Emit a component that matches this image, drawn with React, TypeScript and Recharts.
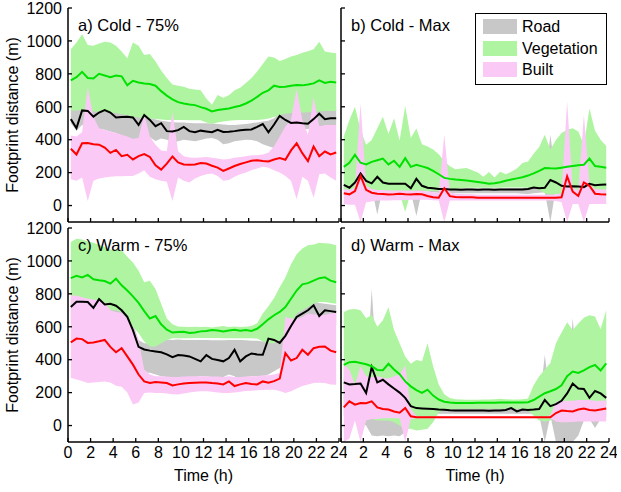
import React from 'react';
import { ComposedChart, Area, Line, XAxis, YAxis, Legend } from 'recharts';

// half-hour bin centres (h)
const hours = [
  0.25, 0.75, 1.25, 1.75, 2.25, 2.75, 3.25, 3.75, 4.25, 4.75, 5.25, 5.75,
  6.25, 6.75, 7.25, 7.75, 8.25, 8.75, 9.25, 9.75, 10.25, 10.75, 11.25, 11.75,
  12.25, 12.75, 13.25, 13.75, 14.25, 14.75, 15.25, 15.75, 16.25, 16.75, 17.25, 17.75,
  18.25, 18.75, 19.25, 19.75, 20.25, 20.75, 21.25, 21.75, 22.25, 22.75, 23.25, 23.75,
];
const xTicks = [0, 2, 4, 6, 8, 10, 12, 14, 16, 18, 20, 22, 24];
const yTicks = [0, 200, 400, 600, 800, 1000, 1200];
const legendOrder = ['Road', 'Vegetation', 'Built'];

// a) Cold - 75%
const cold75RoadLo = [500, 455, 490, 485, 475, 465, 460, 450, 440, 425, 405, 365, 395, 425, 415, 392, 408, 400, 382, 390, 400, 395, 390, 398, 408, 410, 400, 372, 378, 390, 395, 400, 398, 390, 372, 360, 350, 342, 335, 330, 420, 460, 465, 472, 478, 482, 488, 490];
const cold75RoadMed = [525, 470, 578, 575, 540, 565, 580, 565, 535, 538, 540, 535, 490, 550, 520, 482, 500, 452, 450, 458, 478, 452, 445, 455, 450, 445, 460, 447, 448, 452, 458, 461, 462, 478, 495, 445, 492, 545, 520, 502, 505, 500, 497, 525, 558, 525, 530, 531];
const cold75RoadHi = [590, 592, 600, 600, 592, 590, 595, 592, 580, 565, 558, 552, 548, 560, 535, 522, 515, 510, 506, 505, 505, 502, 500, 500, 500, 498, 495, 492, 490, 490, 492, 495, 500, 505, 510, 515, 530, 560, 578, 580, 584, 585, 586, 588, 590, 592, 594, 595];
const cold75VegLo = [578, 578, 580, 575, 572, 570, 568, 565, 562, 555, 548, 540, 535, 530, 528, 525, 522, 520, 520, 520, 520, 518, 518, 518, 505, 495, 505, 510, 515, 518, 520, 520, 520, 520, 522, 528, 538, 550, 558, 562, 565, 565, 566, 568, 572, 574, 575, 575];
const cold75VegMed = [760, 780, 812, 775, 772, 800, 790, 780, 790, 785, 730, 758, 748, 742, 738, 728, 695, 668, 645, 628, 620, 614, 610, 598, 588, 572, 580, 585, 590, 598, 606, 620, 638, 660, 685, 700, 728, 720, 722, 728, 732, 730, 735, 742, 760, 745, 752, 748];
const cold75VegHi = [950, 990, 1040, 975, 970, 985, 995, 990, 970, 935, 895, 990, 970, 915, 920, 875, 820, 775, 735, 728, 722, 710, 705, 700, 650, 612, 672, 655, 670, 700, 715, 745, 775, 815, 860, 905, 900, 878, 890, 905, 915, 928, 938, 950, 995, 935, 930, 925];
const cold75BuiltLo = [160, 150, 170, 28, 150, 165, 170, 175, 178, 178, 180, 180, 195, 215, 175, 160, 150, 145, 28, 170, 150, 140, 165, 180, 190, 195, 180, 150, 155, 175, 190, 200, 215, 225, 235, 230, 215, 200, 180, 150, 38, 175, 150, 48, 190, 195, 170, 150];
const cold75BuiltMed = [345, 310, 378, 380, 372, 370, 352, 320, 338, 300, 308, 280, 300, 312, 295, 245, 218, 255, 298, 262, 250, 248, 250, 258, 255, 242, 230, 210, 225, 240, 252, 262, 272, 275, 270, 268, 280, 288, 278, 335, 378, 318, 270, 358, 300, 328, 310, 322];
const cold75BuiltHi = [425, 420, 445, 720, 540, 470, 460, 450, 440, 430, 420, 405, 410, 555, 420, 370, 335, 330, 570, 330, 300, 292, 290, 292, 295, 290, 285, 280, 282, 290, 295, 300, 305, 305, 310, 320, 360, 420, 480, 520, 710, 520, 430, 660, 480, 490, 490, 490];

// b) Cold - Max
const coldMaxRoadLo = [100, 85, 110, 140, 120, 105, -54, 110, 100, 100, 100, 100, 80, -64, 90, 85, 80, 78, 75, 75, 75, 75, 75, 75, 75, 75, 75, 75, 75, 75, 75, 75, 72, 70, 75, 78, 80, -100, 110, 95, 90, 90, 90, 88, 100, 95, 98, 100];
const coldMaxRoadMed = [125, 108, 140, 195, 150, 135, 175, 140, 133, 132, 132, 132, 105, 162, 120, 108, 105, 101, 100, 98, 97, 96, 97, 97, 96, 97, 97, 96, 97, 97, 98, 97, 97, 100, 110, 105, 108, 155, 140, 120, 116, 117, 115, 112, 132, 124, 126, 128];
const coldMaxRoadHi = [140, 120, 150, 210, 165, 145, 185, 150, 142, 142, 140, 140, 115, 172, 130, 118, 112, 110, 108, 106, 105, 105, 105, 104, 104, 104, 104, 104, 104, 104, 105, 105, 106, 110, 118, 115, 118, 430, 160, 130, 126, 126, 124, 122, 142, 134, 136, 138];
const coldMaxVegLo = [90, 85, 80, 85, 70, 65, 65, 70, 65, 70, 75, -40, 80, 90, 90, 90, 88, 88, 90, 95, 100, 105, 108, 108, 108, 108, 108, 108, 108, 110, 110, 110, 110, 108, 105, 95, 75, 65, 70, 60, 55, 55, 55, 55, 55, 55, 55, 55];
const coldMaxVegMed = [235, 260, 308, 260, 250, 265, 275, 285, 250, 272, 235, 288, 235, 248, 238, 228, 210, 190, 168, 162, 158, 155, 152, 148, 143, 138, 132, 136, 142, 150, 158, 165, 172, 182, 195, 210, 228, 226, 225, 230, 235, 240, 245, 248, 285, 240, 235, 230];
const coldMaxVegHi = [420, 520, 600, 460, 370, 398, 470, 540, 435, 530, 395, 605, 410, 468, 372, 358, 340, 312, 270, 238, 220, 225, 228, 215, 200, 175, 204, 170, 205, 190, 205, 225, 258, 268, 315, 355, 430, 340, 398, 440, 460, 470, 450, 370, 590, 455, 400, 362];
const coldMaxBuiltLo = [10, 5, 5, -100, 20, 25, 30, 30, 30, 32, 32, 32, 35, 35, 35, 35, 32, 30, -100, 30, 30, 30, 30, 30, 30, 30, 30, 30, 30, 30, 30, 30, 30, 30, 30, 30, 30, 30, 28, 20, -100, 10, 10, -100, 10, 10, 10, 10];
const coldMaxBuiltMed = [75, 68, 88, 180, 95, 78, 72, 70, 67, 68, 71, 68, 67, 70, 68, 58, 50, 47, 105, 57, 52, 50, 50, 50, 48, 47, 47, 47, 47, 47, 47, 47, 47, 47, 47, 47, 47, 47, 48, 50, 178, 85, 58, 140, 120, 72, 68, 67];
const coldMaxBuiltHi = [100, 95, 110, 620, 120, 100, 95, 95, 92, 92, 92, 92, 90, 92, 90, 85, 80, 75, 430, 80, 72, 70, 68, 68, 65, 65, 65, 65, 65, 65, 65, 65, 65, 65, 65, 65, 65, 65, 68, 75, 630, 110, 90, 550, 130, 100, 98, 97];

// c) Warm - 75%
const warm75RoadLo = [640, 650, 650, 640, 620, 640, 620, 600, 600, 580, 540, 480, 400, 320, 320, 310, 300, 295, 290, 295, 290, 290, 295, 300, 298, 295, 290, 295, 310, 300, 270, 295, 300, 300, 300, 310, 330, 350, 420, 520, 580, 600, 620, 640, 620, 620, 620, 610];
const warm75RoadMed = [720, 752, 752, 750, 715, 768, 735, 740, 728, 700, 660, 580, 478, 462, 455, 450, 445, 432, 415, 428, 425, 420, 405, 390, 428, 405, 398, 390, 410, 460, 390, 420, 438, 432, 430, 528, 520, 502, 545, 605, 660, 680, 700, 730, 665, 700, 695, 690];
const warm75RoadHi = [770, 780, 780, 780, 770, 790, 770, 770, 760, 730, 690, 620, 520, 500, 500, 510, 525, 522, 520, 522, 520, 520, 520, 520, 520, 518, 518, 518, 520, 520, 520, 518, 515, 515, 510, 535, 530, 525, 560, 640, 700, 715, 730, 755, 745, 740, 735, 730];
const warm75VegLo = [720, 730, 730, 720, 720, 730, 720, 700, 700, 690, 650, 600, 560, 510, 480, 480, 500, 520, 530, 530, 530, 530, 532, 532, 532, 532, 532, 530, 530, 530, 530, 530, 530, 528, 510, 500, 500, 520, 560, 620, 680, 700, 720, 740, 750, 750, 745, 740];
const warm75VegMed = [895, 910, 900, 915, 888, 882, 878, 862, 892, 852, 820, 785, 745, 695, 650, 665, 615, 582, 565, 568, 570, 562, 565, 572, 575, 580, 578, 572, 578, 582, 576, 580, 575, 588, 615, 645, 670, 690, 720, 770, 820, 858, 865, 880, 895, 900, 880, 870];
const warm75VegHi = [1115, 1135, 1130, 1118, 1110, 1098, 1085, 1068, 1068, 1065, 1025, 990, 940, 870, 880, 830, 740, 650, 615, 602, 600, 598, 600, 598, 600, 596, 600, 605, 598, 602, 598, 600, 605, 622, 680, 725, 775, 840, 900, 980, 1040, 1075, 1095, 1100, 1110, 1108, 1105, 1095];
const warm75BuiltLo = [290, 280, 270, 258, 262, 265, 268, 262, 242, 235, 200, 128, 140, 198, 200, 198, 198, 195, 190, 188, 195, 200, 205, 208, 208, 205, 200, 198, 198, 200, 205, 210, 212, 214, 216, 218, 218, 210, 198, 208, 225, 240, 250, 258, 260, 258, 250, 248];
const warm75BuiltMed = [505, 528, 525, 502, 505, 512, 520, 478, 445, 470, 420, 370, 310, 268, 258, 265, 262, 258, 243, 250, 255, 258, 260, 262, 262, 258, 255, 250, 268, 240, 250, 258, 252, 250, 268, 260, 270, 285, 440, 395, 410, 460, 430, 470, 478, 480, 455, 445];
const warm75BuiltHi = [790, 790, 780, 770, 765, 760, 750, 700, 690, 685, 650, 600, 520, 340, 310, 300, 300, 298, 295, 295, 298, 300, 300, 300, 300, 298, 298, 295, 300, 295, 295, 298, 300, 300, 305, 305, 310, 320, 660, 650, 645, 660, 680, 675, 675, 672, 680, 685];

// d) Warm - Max
const warmMaxRoadLo = [60, 40, 30, 20, 0, -60, -65, -60, -65, -60, -65, -40, 60, 70, 70, 72, 72, 72, 72, 72, 72, 72, 72, 72, 72, 72, 72, 72, 72, 72, 72, 72, 72, 72, 72, 60, -100, 60, -100, -100, -100, -100, -60, 30, 40, -15, 40, 50];
const warmMaxRoadMed = [262, 250, 252, 255, 198, 355, 262, 278, 250, 225, 200, 168, 118, 106, 104, 102, 100, 97, 96, 93, 92, 91, 91, 91, 91, 91, 90, 91, 91, 95, 106, 86, 97, 95, 97, 100, 155, 118, 130, 150, 195, 255, 225, 222, 168, 210, 195, 168];
const warmMaxRoadHi = [290, 280, 280, 290, 240, 830, 300, 305, 280, 260, 235, 200, 140, 125, 120, 118, 115, 112, 110, 110, 110, 110, 110, 110, 110, 110, 110, 110, 112, 118, 120, 108, 115, 115, 115, 118, 430, 140, 160, 180, 220, 650, 260, 250, 200, 240, 225, 200];
const warmMaxVegLo = [150, 120, 100, 80, 60, 40, 30, 30, 30, 20, 0, -20, -20, -30, -25, -20, 20, 80, 95, 98, 100, 102, 102, 102, 102, 102, 102, 102, 102, 102, 102, 102, 102, 95, 60, 30, 25, 30, 80, 110, 120, 125, 130, 130, 130, 130, 130, 130];
const warmMaxVegMed = [368, 385, 388, 380, 372, 360, 338, 336, 375, 340, 312, 268, 238, 215, 198, 218, 182, 158, 145, 140, 137, 137, 137, 137, 138, 138, 138, 138, 140, 140, 140, 140, 140, 142, 155, 175, 196, 208, 222, 245, 300, 328, 320, 335, 355, 368, 335, 378];
const warmMaxVegHi = [690, 705, 708, 700, 652, 672, 600, 640, 718, 580, 500, 420, 375, 398, 390, 500, 360, 250, 190, 168, 160, 158, 157, 157, 157, 158, 158, 160, 162, 160, 158, 158, 160, 165, 245, 300, 340, 380, 500, 565, 628, 580, 620, 655, 670, 662, 585, 700];
const warmMaxBuiltLo = [-100, -80, 30, -100, 30, 40, 40, 45, 45, 45, 45, -100, 40, 45, 45, 45, 45, 45, 45, 45, 45, 45, 45, 45, 45, 45, 45, 45, 45, 45, 45, 45, 45, 45, 45, 45, 45, 45, 25, 20, 20, 22, 25, 25, 25, 25, 25, 25];
const warmMaxBuiltMed = [110, 147, 127, 137, 135, 147, 110, 100, 97, 85, 78, 107, 56, 50, 50, 50, 50, 50, 50, 50, 50, 50, 50, 50, 50, 50, 50, 50, 50, 50, 50, 50, 50, 50, 50, 50, 50, 50, 76, 91, 88, 86, 97, 103, 95, 91, 97, 103];
const warmMaxBuiltHi = [370, 340, 250, 360, 300, 295, 300, 290, 285, 300, 310, 365, 100, 58, 55, 55, 55, 55, 55, 55, 55, 55, 55, 55, 55, 55, 55, 55, 55, 55, 55, 55, 55, 55, 55, 55, 55, 62, 145, 148, 150, 150, 155, 155, 155, 150, 150, 152];

const FONT = '"Liberation Sans", Arial, Helvetica, sans-serif';
const ROAD_FILL = '#c8c8c8';
const VEG_FILL = '#aff5a1';
const BUILT_FILL = '#fbc9f6';

const X_GAP = 4; // tickMargin under x axis
const Y_GAP = 6; // tickMargin left of y axis
const TICK_LEN = 4;

type Band = { lo: number[]; med: number[]; hi: number[] };
type PanelDef = {
  title: string;
  road: Band;
  veg: Band;
  built: Band;
  plotLeft: number;
  plotTop: number;
  plotW: number;
  yLabels: boolean;
  xLabels: boolean;
  hideZero?: boolean;
  legend?: boolean;
};

const PLOT_H = 214;

const panels: PanelDef[] = [
  {
    title: 'a) Cold - 75%',
    road: { lo: cold75RoadLo, med: cold75RoadMed, hi: cold75RoadHi },
    veg: { lo: cold75VegLo, med: cold75VegMed, hi: cold75VegHi },
    built: { lo: cold75BuiltLo, med: cold75BuiltMed, hi: cold75BuiltHi },
    plotLeft: 68, plotTop: 8, plotW: 271, yLabels: true, xLabels: false,
  },
  {
    title: 'b) Cold - Max',
    road: { lo: coldMaxRoadLo, med: coldMaxRoadMed, hi: coldMaxRoadHi },
    veg: { lo: coldMaxVegLo, med: coldMaxVegMed, hi: coldMaxVegHi },
    built: { lo: coldMaxBuiltLo, med: coldMaxBuiltMed, hi: coldMaxBuiltHi },
    plotLeft: 341, plotTop: 8, plotW: 268, yLabels: false, xLabels: false, legend: true,
  },
  {
    title: 'c) Warm - 75%',
    road: { lo: warm75RoadLo, med: warm75RoadMed, hi: warm75RoadHi },
    veg: { lo: warm75VegLo, med: warm75VegMed, hi: warm75VegHi },
    built: { lo: warm75BuiltLo, med: warm75BuiltMed, hi: warm75BuiltHi },
    plotLeft: 68, plotTop: 228, plotW: 271, yLabels: true, xLabels: true,
  },
  {
    title: 'd) Warm - Max',
    road: { lo: warmMaxRoadLo, med: warmMaxRoadMed, hi: warmMaxRoadHi },
    veg: { lo: warmMaxVegLo, med: warmMaxVegMed, hi: warmMaxVegHi },
    built: { lo: warmMaxBuiltLo, med: warmMaxBuiltMed, hi: warmMaxBuiltHi },
    plotLeft: 341, plotTop: 228, plotW: 268, yLabels: false, xLabels: true, hideZero: true,
  },
];

const toRows = (p: PanelDef) =>
  hours.map((t, i) => ({
    t,
    road: [p.road.lo[i], p.road.hi[i]],
    veg: [p.veg.lo[i], p.veg.hi[i]],
    built: [p.built.lo[i], p.built.hi[i]],
    roadMed: p.road.med[i],
    vegMed: p.veg.med[i],
    builtMed: p.built.med[i],
  }));

function XTick(props: any) {
  const { x, y, payload, showLabel, hideZero } = props;
  const axisY = y - X_GAP;
  const label = showLabel && !(hideZero && payload.value === 0);
  return (
    <g>
      <line x1={x} x2={x} y1={axisY} y2={axisY - TICK_LEN} stroke="#000" strokeWidth={1.3} />
      {label && (
        <text x={x} y={y} dy="0.72em" textAnchor="middle" fontSize={16} fontFamily={FONT} fill="#000">
          {payload.value}
        </text>
      )}
    </g>
  );
}

function YTick(props: any) {
  const { x, y, payload, showLabel } = props;
  const axisX = x + Y_GAP;
  return (
    <g>
      <line x1={axisX} x2={axisX + TICK_LEN} y1={y} y2={y} stroke="#000" strokeWidth={1.3} />
      {showLabel && (
        <text x={x} y={y} dy="0.36em" textAnchor="end" fontSize={16} fontFamily={FONT} fill="#000">
          {payload.value}
        </text>
      )}
    </g>
  );
}

function YTitle(props: any) {
  const vb = props.viewBox || {};
  const cx = vb.x + 4;
  const cy = vb.y + vb.height / 2;
  return (
    <text x={cx} y={cy} transform={`rotate(-90 ${cx} ${cy})`} textAnchor="middle" dominantBaseline="central"
      fontSize={16} fontFamily={FONT} fill="#000">
      Footprint distance (m)
    </text>
  );
}

function XTitle(props: any) {
  const vb = props.viewBox || {};
  const cx = vb.x + vb.width / 2;
  const cy = vb.y + 33;
  return (
    <text x={cx} y={cy} textAnchor="middle" dominantBaseline="central" fontSize={16} fontFamily={FONT} fill="#000">
      Time (h)
    </text>
  );
}

function LegendBox(props: any) {
  const items = (props.payload || [])
    .filter((e: any) => legendOrder.includes(e.value))
    .sort((a: any, b: any) => legendOrder.indexOf(a.value) - legendOrder.indexOf(b.value));
  return (
    <div style={{ border: '1.5px solid #000', background: '#fff', padding: '2px 8px 3px 7px', fontFamily: FONT, fontSize: 16, lineHeight: '21px' }}>
      {items.map((e: any) => (
        <div key={e.value} style={{ display: 'flex', alignItems: 'center', height: 21.5 }}>
          <span style={{ display: 'inline-block', width: 34, height: 15, background: e.color, marginRight: 5 }} />
          <span>{e.value}</span>
        </div>
      ))}
    </div>
  );
}

function Panel({ p }: { p: PanelDef }) {
  const yAxisW = 60;
  const m = { top: 8, right: 8, bottom: 0, left: 8 };
  const xAxisH = p.xLabels ? 50 : 6;
  const width = m.left + yAxisW + p.plotW + m.right;
  const height = m.top + PLOT_H + xAxisH;
  const left = p.plotLeft - m.left - yAxisW;
  const top = p.plotTop - m.top;
  const rows = toRows(p);

  return (
    <div style={{ position: 'absolute', left, top, width, height }}>
      <ComposedChart width={width} height={height} data={rows} margin={m}>
        <XAxis
          type="number"
          dataKey="t"
          domain={[0, 24]}
          ticks={xTicks}
          interval={0}
          height={xAxisH}
          tickSize={0}
          tickMargin={X_GAP}
          tickLine={false}
          axisLine={{ stroke: '#000', strokeWidth: 1.5 }}
          tick={(tp: any) => <XTick {...tp} showLabel={p.xLabels} hideZero={p.hideZero} />}
          label={p.xLabels ? <XTitle /> : undefined}
        />
        <YAxis
          type="number"
          domain={[-100, 1200]}
          ticks={yTicks}
          interval={0}
          width={yAxisW}
          allowDataOverflow
          tickSize={0}
          tickMargin={Y_GAP}
          tickLine={false}
          axisLine={{ stroke: '#000', strokeWidth: 1.5 }}
          tick={(tp: any) => <YTick {...tp} showLabel={p.yLabels} />}
          label={p.yLabels ? <YTitle /> : undefined}
        />
        <Area type="linear" dataKey="road" name="Road" stroke="none" fill={ROAD_FILL} fillOpacity={1} isAnimationActive={false} dot={false} activeDot={false} />
        <Area type="linear" dataKey="veg" name="Vegetation" stroke="none" fill={VEG_FILL} fillOpacity={1} isAnimationActive={false} dot={false} activeDot={false} />
        <Area type="linear" dataKey="built" name="Built" stroke="none" fill={BUILT_FILL} fillOpacity={1} isAnimationActive={false} dot={false} activeDot={false} />
        <Line type="linear" dataKey="roadMed" stroke="#000000" strokeWidth={2} dot={false} activeDot={false} legendType="none" isAnimationActive={false} />
        <Line type="linear" dataKey="vegMed" stroke="#00e100" strokeWidth={2} dot={false} activeDot={false} legendType="none" isAnimationActive={false} />
        <Line type="linear" dataKey="builtMed" stroke="#ff0000" strokeWidth={2} dot={false} activeDot={false} legendType="none" isAnimationActive={false} />
        {p.legend && (
          <Legend
            layout="vertical"
            align="center"
            verticalAlign="middle"
            content={<LegendBox />}
            wrapperStyle={{ left: 475 - left, top: 13 - top, width: 'auto', height: 'auto' }}
          />
        )}
      </ComposedChart>
      <div
        style={{
          position: 'absolute',
          left: m.left + yAxisW + 10,
          top: m.top + 7,
          fontFamily: FONT,
          fontSize: 16.5,
          lineHeight: '20px',
          whiteSpace: 'nowrap',
          color: '#000',
        }}
      >
        {p.title}
      </div>
    </div>
  );
}

export default function App() {
  return (
    <div style={{ position: 'absolute', left: 0, top: 0, width: 621, height: 492, background: '#fff', overflow: 'hidden' }}>
      {panels.map((p) => (
        <Panel key={p.title} p={p} />
      ))}
    </div>
  );
}
